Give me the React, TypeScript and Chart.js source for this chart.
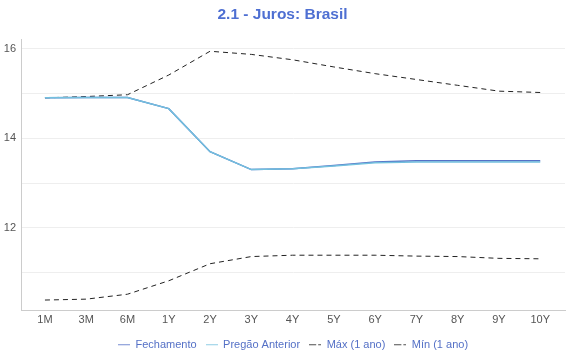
import React, { useEffect, useRef } from "react";
import { Chart, registerables } from "chart.js";

Chart.register(...registerables);

const categories = ["1M", "3M", "6M", "1Y", "2Y", "3Y", "4Y", "5Y", "6Y", "7Y", "8Y", "9Y", "10Y"];
const fechamento = [14.9, 14.91, 14.91, 14.66, 13.7, 13.3, 13.32, 13.39, 13.47, 13.5, 13.5, 13.5, 13.5];
const pregaoAnterior = [14.9, 14.91, 14.91, 14.66, 13.7, 13.3, 13.32, 13.38, 13.45, 13.47, 13.47, 13.47, 13.47];
const maxAno = [14.9, 14.93, 14.97, 15.41, 15.94, 15.87, 15.75, 15.59, 15.44, 15.31, 15.18, 15.05, 15.02];
const minAno = [10.39, 10.41, 10.52, 10.82, 11.2, 11.36, 11.39, 11.39, 11.39, 11.37, 11.36, 11.32, 11.31];
const yTicks = [11, 12, 13, 14, 15, 16];

const FONT = "'Liberation Sans', Arial, sans-serif";

function marker(color: string, dashed: boolean): HTMLCanvasElement {
  const c = document.createElement("canvas");
  c.width = 12;
  c.height = 2;
  const ctx = c.getContext("2d")!;
  ctx.fillStyle = color;
  if (dashed) {
    ctx.fillRect(0, 0, 7, 1.2);
    ctx.fillRect(9, 0, 3, 1.2);
  } else {
    ctx.fillRect(0, 0, 12, 1.2);
  }
  return c;
}

const toXY = (arr: number[]) => arr.map((y, i) => ({ x: i, y }));

export default function App() {
  const ref = useRef<HTMLCanvasElement | null>(null);
  useEffect(() => {
    if (!ref.current) return;
    const chart = new Chart(ref.current, {
      type: "line",
      data: {
        datasets: [
          { label: "Fechamento", data: toXY(fechamento), borderColor: "#5470c6", backgroundColor: "#5470c6", borderWidth: 1.5, pointRadius: 0, pointStyle: marker("#5470c6", false), tension: 0, order: 2 },
          { label: "Pregão Anterior", data: toXY(pregaoAnterior), borderColor: "#73c0de", backgroundColor: "#73c0de", borderWidth: 1.5, pointRadius: 0, pointStyle: marker("#73c0de", false), tension: 0, order: 1 },
          { label: "Máx (1 ano)", data: toXY(maxAno), borderColor: "#222", backgroundColor: "#222", borderWidth: 1, borderDash: [5, 4], pointRadius: 0, pointStyle: marker("#222", true), tension: 0, order: 3 },
          { label: "Mín (1 ano)", data: toXY(minAno), borderColor: "#222", backgroundColor: "#222", borderWidth: 1, borderDash: [5, 4], pointRadius: 0, pointStyle: marker("#222", true), tension: 0, order: 4 },
        ],
      },
      options: {
        responsive: false,
        animation: false,
        maintainAspectRatio: false,
        layout: { padding: { left: 0, right: 5, top: 0, bottom: 0 } },
        plugins: {
          title: {
            display: true,
            text: "2.1 - Juros: Brasil",
            color: "#4e6fd2",
            font: { family: FONT, size: 15.5, weight: "bold" },
            padding: { top: 5, bottom: 16 },
          },
          legend: {
            position: "bottom",
            fullSize: false,
            labels: {
              color: "#5470c6",
              font: { family: FONT, size: 11 },
              usePointStyle: true,
              pointStyleWidth: 12,
              boxHeight: 11,
              padding: 9,
              sort: (a: any, b: any) => a.datasetIndex - b.datasetIndex,
            },
          },
          tooltip: { enabled: false },
        },
        scales: {
          x: {
            type: "linear",
            min: -0.58,
            max: 12.6,
            afterBuildTicks: (scale: any) => {
              scale.ticks = categories.map((_, i) => ({ value: i }));
            },
            grid: { display: true, drawOnChartArea: false, drawTicks: false },
            border: { color: "#ccc" },
            ticks: {
              color: "#555",
              font: { family: FONT, size: 11 },
              padding: 3,
              maxRotation: 0,
              autoSkip: false,
              callback: (v: any) => categories[Math.round(Number(v))] ?? "",
            },
          },
          y: {
            min: 10.15,
            max: 16.2,
            afterBuildTicks: (scale: any) => {
              scale.ticks = yTicks.map((v) => ({ value: v }));
            },
            afterFit: (scale: any) => {
              scale.width = 21;
            },
            grid: { color: "#eeeeee", drawTicks: false },
            border: { color: "#ccc" },
            ticks: {
              color: "#555",
              font: { family: FONT, size: 11 },
              padding: 5,
              callback: (v: any) => (Number(v) % 2 === 0 ? String(v) : ""),
            },
          },
        },
      },
    });
    return () => chart.destroy();
  }, []);
  return (
    <div style={{ position: "fixed", left: 0, top: 0, width: 570, height: 360, background: "#fff" }}>
      <canvas ref={ref} width={570} height={360} style={{ width: 570, height: 360 }} />
    </div>
  );
}
